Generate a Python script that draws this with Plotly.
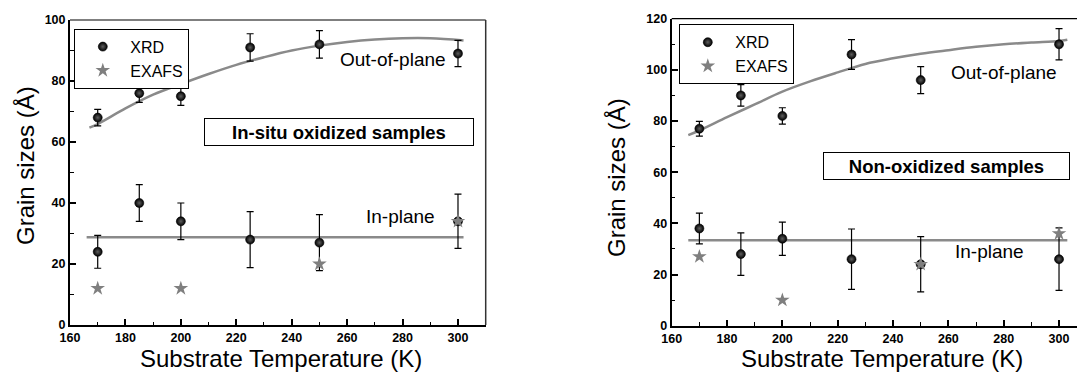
import plotly.graph_objects as go

# ---------------- data ----------------
temps = [170, 185, 200, 225, 250, 300]

# Left panel: in-situ oxidized samples
L_out_xrd = [68, 76, 75, 91, 92, 89]
L_out_err = [2.7, 3.0, 3.0, 4.5, 4.5, 4.3]
L_in_xrd = [24, 40, 34, 28, 27, 34]
L_in_err = [5.4, 6.0, 6.0, 9.2, 9.2, 8.9]
L_exafs_t = [170, 200, 250, 300]
L_exafs = [12, 12, 20, 34]
L_fit_out_t = [167, 170, 180, 190, 200, 210, 220, 230, 240, 250, 260, 270, 280, 290, 302]
L_fit_out = [64.7, 65.9, 71, 75.5, 79, 82.3, 85.3, 87.8, 90, 91.6, 92.8, 93.6, 94, 94, 93.3]
L_fit_in_t = [166, 302]
L_fit_in = [28.8, 28.8]

# Right panel: non-oxidized samples
R_out_xrd = [77, 90, 82, 106, 96, 110]
R_out_err = [2.9, 4.2, 3.2, 5.8, 5.3, 6.1]
R_in_xrd = [38, 28, 34, 26, 24, 26]
R_in_err = [6.0, 8.3, 6.5, 11.8, 10.8, 12.2]
R_exafs_t = [170, 200, 250, 300]
R_exafs = [27, 10, 24, 36]
R_fit_out_t = [166, 170, 180, 190, 200, 210, 220, 230, 240, 250, 260, 270, 280, 290, 300, 303]
R_fit_out = [74.5, 76.3, 81.5, 86.5, 91.5, 95.5, 99, 102.3, 104.5, 106.3, 107.7, 109, 110, 110.7, 111.3, 111.8]
R_fit_in_t = [166, 303]
R_fit_in = [33.4, 33.4]

FONT = "Arial, Liberation Sans, sans-serif"
W, H = 1077, 373
LINE_GRAY = "#8a8a8a"

fig = go.Figure()

sphere = dict(symbol="circle", size=9, color="black",
              gradient=dict(type="radial", color="#5e5e5e"),
              line=dict(color="black", width=0.6))
star = dict(symbol="star", size=11, color="#7f7f7f", line=dict(width=0))


def add_panel(xa, ya, leg, fit_out_t, fit_out, fit_in_t, fit_in,
              out_xrd, out_err, in_xrd, in_err, ex_t, ex):
    fig.add_trace(go.Scatter(x=fit_out_t, y=fit_out, mode="lines", xaxis=xa, yaxis=ya,
                             line=dict(color=LINE_GRAY, width=2.5, shape="spline"),
                             showlegend=False, hoverinfo="skip"))
    fig.add_trace(go.Scatter(x=fit_in_t, y=fit_in, mode="lines", xaxis=xa, yaxis=ya,
                             line=dict(color=LINE_GRAY, width=2.5),
                             showlegend=False, hoverinfo="skip"))
    fig.add_trace(go.Scatter(x=temps, y=out_xrd, mode="markers", xaxis=xa, yaxis=ya,
                             marker=sphere, name="XRD", legend=leg,
                             error_y=dict(type="data", array=out_err, color="black",
                                          thickness=1.2, width=3.5)))
    fig.add_trace(go.Scatter(x=temps, y=in_xrd, mode="markers", xaxis=xa, yaxis=ya,
                             marker=sphere, name="XRD", legend=leg, showlegend=False,
                             error_y=dict(type="data", array=in_err, color="black",
                                          thickness=1.2, width=3.5)))
    fig.add_trace(go.Scatter(x=ex_t, y=ex, mode="markers", xaxis=xa, yaxis=ya,
                             marker=star, name="EXAFS", legend=leg))


add_panel("x", "y", "legend", L_fit_out_t, L_fit_out, L_fit_in_t, L_fit_in,
          L_out_xrd, L_out_err, L_in_xrd, L_in_err, L_exafs_t, L_exafs)
add_panel("x2", "y2", "legend2", R_fit_out_t, R_fit_out, R_fit_in_t, R_fit_in,
          R_out_xrd, R_out_err, R_in_xrd, R_in_err, R_exafs_t, R_exafs)

tickfont = dict(family=FONT, size=12.5, color="black", weight="bold")


def xax(domain, rng, anchor):
    return dict(domain=domain, range=rng, anchor=anchor, tick0=160, dtick=20,
                ticks="inside", ticklen=6, tickwidth=1.5, tickcolor="black",
                minor=dict(ticks="inside", dtick=10, ticklen=3.5, tickwidth=1.2, tickcolor="black"),
                showline=True, linewidth=2, linecolor="black", showgrid=False,
                zeroline=False, tickfont=tickfont, automargin=False)


def yax(domain, rng, anchor):
    return dict(domain=domain, range=rng, anchor=anchor, tick0=0, dtick=20,
                ticks="inside", ticklen=6, tickwidth=1.5, tickcolor="black",
                minor=dict(ticks="inside", dtick=10, ticklen=3.5, tickwidth=1.2, tickcolor="black"),
                showline=True, linewidth=2, linecolor="black", showgrid=False,
                zeroline=False, tickfont=tickfont, automargin=False)


legend_style = dict(xanchor="left", yanchor="top", bordercolor="black", borderwidth=1,
                    bgcolor="white", font=dict(family=FONT, size=16), itemwidth=45,
                    tracegroupgap=0)

fig.update_layout(
    width=W, height=H, autosize=False, margin=dict(l=0, r=0, t=0, b=0, pad=0),
    paper_bgcolor="white", plot_bgcolor="white",
    font=dict(family=FONT, color="black"),
    xaxis=xax([70 / W, 485.7 / W], [160, 310], "y"),
    yaxis=yax([48 / H, 353 / H], [0, 100], "x"),
    xaxis2=xax([671.7 / W, 1.0], [160, 306.5], "y2"),
    yaxis2=yax([47.3 / H, 354.3 / H], [0, 120], "x2"),
    legend=dict(x=74.3 / W, y=1 - 28.7 / H, **legend_style),
    legend2=dict(x=679.3 / W, y=1 - 24.3 / H, **legend_style),
    showlegend=True,
)

# frame lines (top / right)
fig.add_shape(type="line", xref="x domain", yref="y domain", x0=0, x1=1, y0=1, y1=1,
              line=dict(color="black", width=1.2))
fig.add_shape(type="line", xref="x domain", yref="y domain", x0=1, x1=1, y0=0, y1=1,
              line=dict(color="#333333", width=1.5))
fig.add_shape(type="line", xref="x2 domain", yref="y2 domain", x0=0, x1=1, y0=1, y1=1,
              line=dict(color="black", width=1.2))

lab = dict(family=FONT, size=19, color="black")
ctr = dict(showarrow=False, xanchor="center", yanchor="middle")
fig.add_annotation(x=276.4, y=86.9, xref="x", yref="y", text="Out-of-plane", font=lab, **ctr)
fig.add_annotation(x=279.2, y=35.5, xref="x", yref="y", text="In-plane", font=lab, **ctr)
fig.add_annotation(x=280.2, y=98.9, xref="x2", yref="y2", text="Out-of-plane", font=lab, **ctr)
fig.add_annotation(x=274.9, y=28.9, xref="x2", yref="y2", text="In-plane", font=lab, **ctr)

boxfont = dict(family=FONT, size=18.5, color="black", weight="bold")
fig.add_annotation(x=339.3 / W, y=1 - 131.5 / H, xref="paper", yref="paper",
                   text="In-situ oxidized samples", font=boxfont,
                   bordercolor="black", borderwidth=1, borderpad=2, bgcolor="white",
                   width=264, height=22, **ctr)
fig.add_annotation(x=946.7 / W, y=1 - 166.2 / H, xref="paper", yref="paper",
                   text="Non-oxidized samples", font=boxfont,
                   bordercolor="black", borderwidth=1, borderpad=2, bgcolor="white",
                   width=241, height=22, **ctr)

titlefont = dict(family=FONT, size=24, color="black")
fig.add_annotation(x=25 / W, y=1 - 166 / H, xref="paper", yref="paper", text="Grain sizes (Å)",
                   textangle=-90, font=titlefont, **ctr)
fig.add_annotation(x=616 / W, y=1 - 178 / H, xref="paper", yref="paper", text="Grain sizes (Å)",
                   textangle=-90, font=titlefont, **ctr)
fig.add_annotation(x=281 / W, y=1 - 358.5 / H, xref="paper", yref="paper",
                   text="Substrate Temperature (K)", font=titlefont, **ctr)
fig.add_annotation(x=882 / W, y=1 - 358.5 / H, xref="paper", yref="paper",
                   text="Substrate Temperature (K)", font=titlefont, **ctr)

fig.write_html("out.html", config={"displayModeBar": False},
               post_script="document.body.style.margin='0';document.body.style.overflow='hidden';")
